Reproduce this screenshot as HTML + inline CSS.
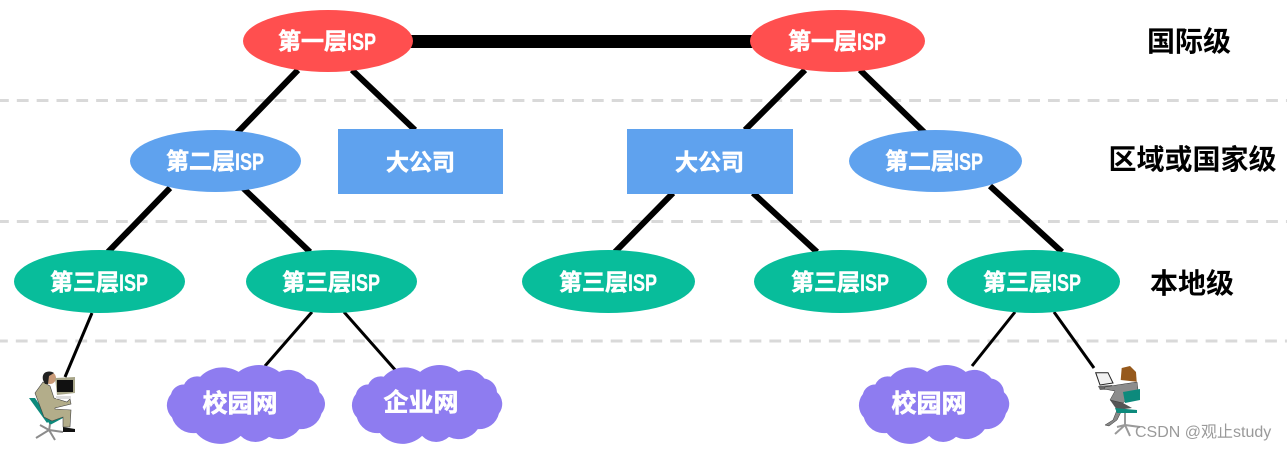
<!DOCTYPE html>
<html>
<head>
<meta charset="utf-8">
<style>
html,body{margin:0;padding:0;background:#fff;width:1287px;height:450px;overflow:hidden}
svg{display:block}
.t,.c,.i{font-family:"Liberation Sans","Noto Sans CJK SC",sans-serif;font-weight:700;fill:#fff;stroke:#fff}
.t{font-size:23px;stroke-width:.6px}
.c{font-size:25px;stroke-width:.6px;text-anchor:middle}
.i{font-size:24px;stroke-width:.3px}
.l{font-family:"Liberation Sans","Noto Sans CJK SC",sans-serif;font-weight:700;fill:#000;text-anchor:middle;font-size:28px}
</style>
</head>
<body>
<svg width="1287" height="450" viewBox="0 0 1287 450" xmlns="http://www.w3.org/2000/svg">
<g stroke="#d9d9d9" stroke-width="3" stroke-dasharray="11.800 8.030" fill="none">
<path d="M-3 100.500H1287"/><path d="M-3 221.500H1287"/><path d="M-4 341H1287"/>
</g>
<rect x="410" y="35" width="345" height="13" fill="#000"/>
<g stroke="#000" stroke-width="6" fill="none">
<path d="M298 70L237 133"/><path d="M352 70L415 130"/><path d="M805 70L745 130"/><path d="M860 70L925 133"/>
<path d="M170 188L108 252"/><path d="M243 188L310 252"/><path d="M673 193L615 252"/><path d="M753 193L817 252"/><path d="M990 186L1062 252"/>
</g>
<g stroke="#000" stroke-width="3" fill="none">
<path d="M92 313L65 377"/><path d="M312 312L265 366"/><path d="M344 312L397 372"/><path d="M1015 312L972 366"/><path d="M1054 312L1094 368"/>
</g>
<ellipse cx="328" cy="41" rx="85" ry="31" fill="#ff4f4f"/>
<ellipse cx="837.500" cy="41" rx="87.500" ry="31" fill="#ff4f4f"/>
<ellipse cx="215.500" cy="161" rx="85.500" ry="31" fill="#5fa2ee"/>
<ellipse cx="935.500" cy="161" rx="86.500" ry="31" fill="#5fa2ee"/>
<rect x="338" y="129" width="165" height="65" fill="#5fa2ee"/>
<rect x="627" y="129" width="166" height="65" fill="#5fa2ee"/>
<g fill="#08bd9b">
<ellipse cx="99.500" cy="281.500" rx="85.500" ry="31.500"/>
<ellipse cx="331.500" cy="281.500" rx="85.500" ry="31.500"/>
<ellipse cx="608.500" cy="281.500" rx="86.500" ry="31.500"/>
<ellipse cx="840.500" cy="281.500" rx="86.500" ry="31.500"/>
<ellipse cx="1033.500" cy="281.500" rx="86.500" ry="31.500"/>
</g>
<g fill="#8e7cf0">
<path transform="translate(-1.700 12) scale(1.010 .97)" d="M171 394A13 13 0 0 1 184 384A14 14 0 0 1 200 376A30 30 0 0 1 238 371A32 32 0 0 1 278 371A22 22 0 0 1 305 378A15 15 0 0 1 318 392A16 16 0 0 1 320 414A21 21 0 0 1 298 430A24 24 0 0 1 268 438A20 20 0 0 1 240 437A30 30 0 0 1 196 434A22 22 0 0 1 172 418A18 18 0 0 1 171 394Z"/>
<path transform="translate(191.700 12) scale(.96 .97)" d="M171 394A13 13 0 0 1 184 384A14 14 0 0 1 200 376A30 30 0 0 1 238 371A32 32 0 0 1 278 371A22 22 0 0 1 305 378A15 15 0 0 1 318 392A16 16 0 0 1 320 414A21 21 0 0 1 298 430A24 24 0 0 1 268 438A20 20 0 0 1 240 437A30 30 0 0 1 196 434A22 22 0 0 1 172 418A18 18 0 0 1 171 394Z"/>
<path transform="translate(698.700 12) scale(.96 .97)" d="M171 394A13 13 0 0 1 184 384A14 14 0 0 1 200 376A30 30 0 0 1 238 371A32 32 0 0 1 278 371A22 22 0 0 1 305 378A15 15 0 0 1 318 392A16 16 0 0 1 320 414A21 21 0 0 1 298 430A24 24 0 0 1 268 438A20 20 0 0 1 240 437A30 30 0 0 1 196 434A22 22 0 0 1 172 418A18 18 0 0 1 171 394Z"/>
</g>
<text class="t" x="278" y="49">第一层</text><text class="i" x="347" y="50" textLength="29" lengthAdjust="spacingAndGlyphs">ISP</text>
<text class="t" x="788" y="49">第一层</text><text class="i" x="857" y="50" textLength="29" lengthAdjust="spacingAndGlyphs">ISP</text>
<text class="t" x="166" y="169">第二层</text><text class="i" x="235" y="170" textLength="29" lengthAdjust="spacingAndGlyphs">ISP</text>
<text class="t" x="885" y="169">第二层</text><text class="i" x="954" y="170" textLength="29" lengthAdjust="spacingAndGlyphs">ISP</text>
<text class="t" x="386" y="170">大公司</text>
<text class="t" x="675" y="170">大公司</text>
<text class="t" x="50" y="290">第三层</text><text class="i" x="119" y="291" textLength="29" lengthAdjust="spacingAndGlyphs">ISP</text>
<text class="t" x="282" y="290">第三层</text><text class="i" x="351" y="291" textLength="29" lengthAdjust="spacingAndGlyphs">ISP</text>
<text class="t" x="559" y="290">第三层</text><text class="i" x="628" y="291" textLength="29" lengthAdjust="spacingAndGlyphs">ISP</text>
<text class="t" x="791" y="290">第三层</text><text class="i" x="860" y="291" textLength="29" lengthAdjust="spacingAndGlyphs">ISP</text>
<text class="t" x="983" y="290">第三层</text><text class="i" x="1052" y="291" textLength="29" lengthAdjust="spacingAndGlyphs">ISP</text>
<text class="c" x="240" y="412">校园网</text>
<text class="c" x="421" y="411">企业网</text>
<text class="c" x="929" y="412">校园网</text>
<text class="l" x="1189" y="51">国际级</text>
<text class="l" x="1192.500" y="169">区域或国家级</text>
<text class="l" x="1192" y="293">本地级</text>
<!-- man -->
<g>
<path d="M29 398L35 398L50 420L47 423Z" fill="#0d8a7c"/>
<path d="M47 420L63 415L63 418L50 425Z" fill="#0d8a7c"/>
<path d="M50 424L49 431M49 430L36 438M49 430L55 440M49 430L63 432M49 430L40 425" stroke="#8c8c8c" stroke-width="2" fill="none"/>
<path d="M43 382L50 386L54 398L67 402L70 399L71 404L55 408L55 409L71 410L70 427L63 427L63 417L52 421L44 417L35 393Z" fill="#b3ad8a" stroke="#444" stroke-width=".6"/>
<circle cx="50" cy="378" r="6" fill="#c99a78"/>
<path d="M43 380C41 371 50 370 54 373L49 376L48 384L45 384Z" fill="#222"/>
<path d="M55 378L75 377L75 393L57 395Z" fill="#a8a68a"/>
<rect x="57" y="380" width="16" height="12" fill="#111"/>
<rect x="56" y="396" width="15" height="3" fill="#ddd"/>
<path d="M63 427L75 429L75 432L63 432Z" fill="#111"/>
</g>
<!-- woman -->
<g>
<path d="M1095.700 372.700L1108 372.700L1113 383L1100 385Z" fill="#f2f2f2" stroke="#222" stroke-width="1"/>
<path d="M1098 386L1112 385L1114 389L1100 390Z" fill="#666"/>
<path d="M1117 410L1113 420L1105 425L1109 426L1117 420L1122 410Z" fill="#888" stroke="#333" stroke-width=".5"/>
<path d="M1125 413L1125 425M1125 425L1115 434M1125 425L1130 436M1125 425L1140 427M1125 425L1117 427" stroke="#9a9a9a" stroke-width="2" fill="none"/>
<path d="M1110 400L1123 403L1132 408L1117 410Z" fill="#555"/>
<path d="M1117 385L1137 382L1138 390L1123 403L1110 400L1115 391L1104 389L1105 387Z" fill="#8c8c8c" stroke="#333" stroke-width=".5"/>
<path d="M1120.700 380L1121.700 368L1130 366L1136 372L1136.700 381.700Z" fill="#96591c"/>
<path d="M1123 392L1140 389L1140 400L1125 403Z" fill="#0d8a7c"/>
<path d="M1115 408L1137 410L1137 413L1117 413Z" fill="#0d8a7c"/>
</g>
<text x="1135" y="437" font-family="'Liberation Sans','Noto Sans CJK SC',sans-serif" font-size="16" fill="#8f8f8f" fill-opacity=".9">CSDN @观止study</text>
</svg>
</body>
</html>
